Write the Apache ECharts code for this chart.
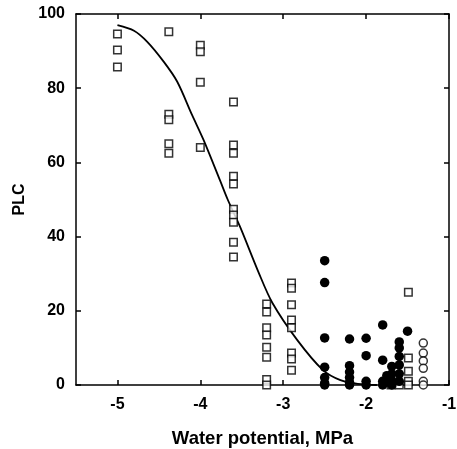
<!DOCTYPE html>
<html>
<head>
<meta charset="utf-8">
<script src="https://cdn.jsdelivr.net/npm/echarts@6/dist/echarts.min.js"></script>
<style>
html,body{margin:0;padding:0;background:#fff;}
#c{width:457px;height:449px;}
</style>
</head>
<body>
<div id="c"></div>
<script>
// Data
var xTicks = [-5, -4, -3, -2, -1];
var yTicks = [0, 20, 40, 60, 80, 100];

var openSquares = [
  [-5, 94.6], [-5, 90.3], [-5, 85.7],
  [-4.38, 95.2], [-4.38, 73], [-4.38, 71.5], [-4.38, 65], [-4.38, 62.5],
  [-4, 91.6], [-4, 89.8], [-4, 81.6], [-4, 64],
  [-3.6, 76.3], [-3.6, 64.7], [-3.6, 62.5], [-3.6, 56.3], [-3.6, 54.2],
  [-3.6, 47.4], [-3.6, 45.8], [-3.6, 43.9], [-3.6, 38.5], [-3.6, 34.5],
  [-3.2, 21.8], [-3.2, 19.7], [-3.2, 15.4], [-3.2, 13.5], [-3.2, 10.2],
  [-3.2, 7.5], [-3.2, 1.5], [-3.2, 0],
  [-2.9, 27.5], [-2.9, 26.1], [-2.9, 21.6], [-2.9, 17.5], [-2.9, 15.4],
  [-2.9, 8.6], [-2.9, 7], [-2.9, 4],
  [-1.7, 0], [-1.6, 0],
  [-1.49, 25], [-1.49, 7.3], [-1.49, 3.7], [-1.49, 1], [-1.49, 0]
];

var filledCircles = [
  [-2.5, 33.5], [-2.5, 27.6], [-2.5, 12.7], [-2.5, 4.8], [-2.5, 2], [-2.5, 0.5], [-2.5, 0],
  [-2.2, 12.4], [-2.2, 5.2], [-2.2, 3.5], [-2.2, 2], [-2.2, 0.7], [-2.2, 0],
  [-2.0, 12.6], [-2.0, 7.9], [-2.0, 1], [-2.0, 0],
  [-1.8, 16.2], [-1.8, 6.7], [-1.8, 1], [-1.8, 0],
  [-1.75, 2.5], [-1.75, 0.8],
  [-1.69, 5], [-1.69, 3], [-1.69, 1.2], [-1.69, 0],
  [-1.6, 11.6], [-1.6, 10], [-1.6, 7.7], [-1.6, 5.4], [-1.6, 3], [-1.6, 1],
  [-1.5, 14.5]
];

var openCircles = [
  [-1.31, 11.3], [-1.31, 8.6], [-1.31, 6.5], [-1.31, 4.5], [-1.31, 1], [-1.31, 0]
];

var fitCurve = [
  [-5, 97], [-4.8, 95.5], [-4.64, 92.5], [-4.44, 87.1], [-4.28, 81.8],
  [-4.1, 72.8], [-3.96, 66], [-3.76, 55], [-3.67, 50], [-3.52, 42.6], [-3.3, 30.5],
  [-3.13, 22.1], [-2.83, 12.1], [-2.52, 4], [-2.31, 1.3], [-2.1, 0.3], [-1.87, 0]
];

var FONT = '"Liberation Sans", Arial, sans-serif';
var chart = echarts.init(document.getElementById('c'), null, {renderer: 'canvas'});

var lineStyle = {color: '#000', width: 1.5};
function xAx(pos, labels) {
  return {
    type: 'value', position: pos, min: -5.5, max: -1, interval: 0.5,
    axisLine: {show: true, onZero: false, lineStyle: lineStyle},
    axisTick: {show: true, inside: true, length: 5, lineStyle: lineStyle, customValues: xTicks},
    axisLabel: {show: labels, customValues: xTicks, margin: 12, color: '#000',
      fontFamily: FONT, fontWeight: 'bold', fontSize: 16},
    splitLine: {show: false},
    name: labels ? 'Water potential, MPa' : '',
    nameLocation: 'middle', nameGap: 44,
    nameTextStyle: {color: '#000', fontFamily: FONT, fontWeight: 'bold', fontSize: 18.5}
  };
}
function yAx(pos, labels) {
  return {
    type: 'value', position: pos, min: 0, max: 100, interval: 20,
    axisLine: {show: true, onZero: false, lineStyle: lineStyle},
    axisTick: {show: true, inside: true, length: 5, lineStyle: lineStyle},
    axisLabel: {show: labels, margin: 11, color: '#000',
      fontFamily: FONT, fontWeight: 'bold', fontSize: 16},
    splitLine: {show: false},
    name: labels ? 'PLC' : '',
    nameLocation: 'middle', nameGap: 48,
    nameTextStyle: {color: '#000', fontFamily: FONT, fontWeight: 'bold', fontSize: 16}
  };
}

chart.setOption({
  animation: false,
  backgroundColor: '#fff',
  grid: {left: 76, right: 8, top: 14, bottom: 64, containLabel: false, outerBoundsMode: 'none'},
  xAxis: [xAx('bottom', true), xAx('top', false)],
  yAxis: [yAx('left', true), yAx('right', false)],
  series: [
    {
      type: 'line', data: fitCurve, smooth: 0.3, showSymbol: false, symbol: 'none',
      lineStyle: {color: '#000', width: 1.8}, z: 2
    },
    {
      type: 'scatter', data: openSquares, symbol: 'rect', symbolSize: 7.5,
      itemStyle: {color: '#fff', borderColor: '#000', borderWidth: 1.5}, z: 3
    },
    {
      type: 'scatter', data: filledCircles, symbol: 'circle', symbolSize: 9.5,
      itemStyle: {color: '#000', opacity: 1}, z: 4
    },
    {
      type: 'scatter', data: openCircles, symbol: 'circle', symbolSize: 8,
      itemStyle: {color: '#fff', borderColor: '#000', borderWidth: 1.5}, z: 4
    }
  ]
});
</script>
</body>
</html>
